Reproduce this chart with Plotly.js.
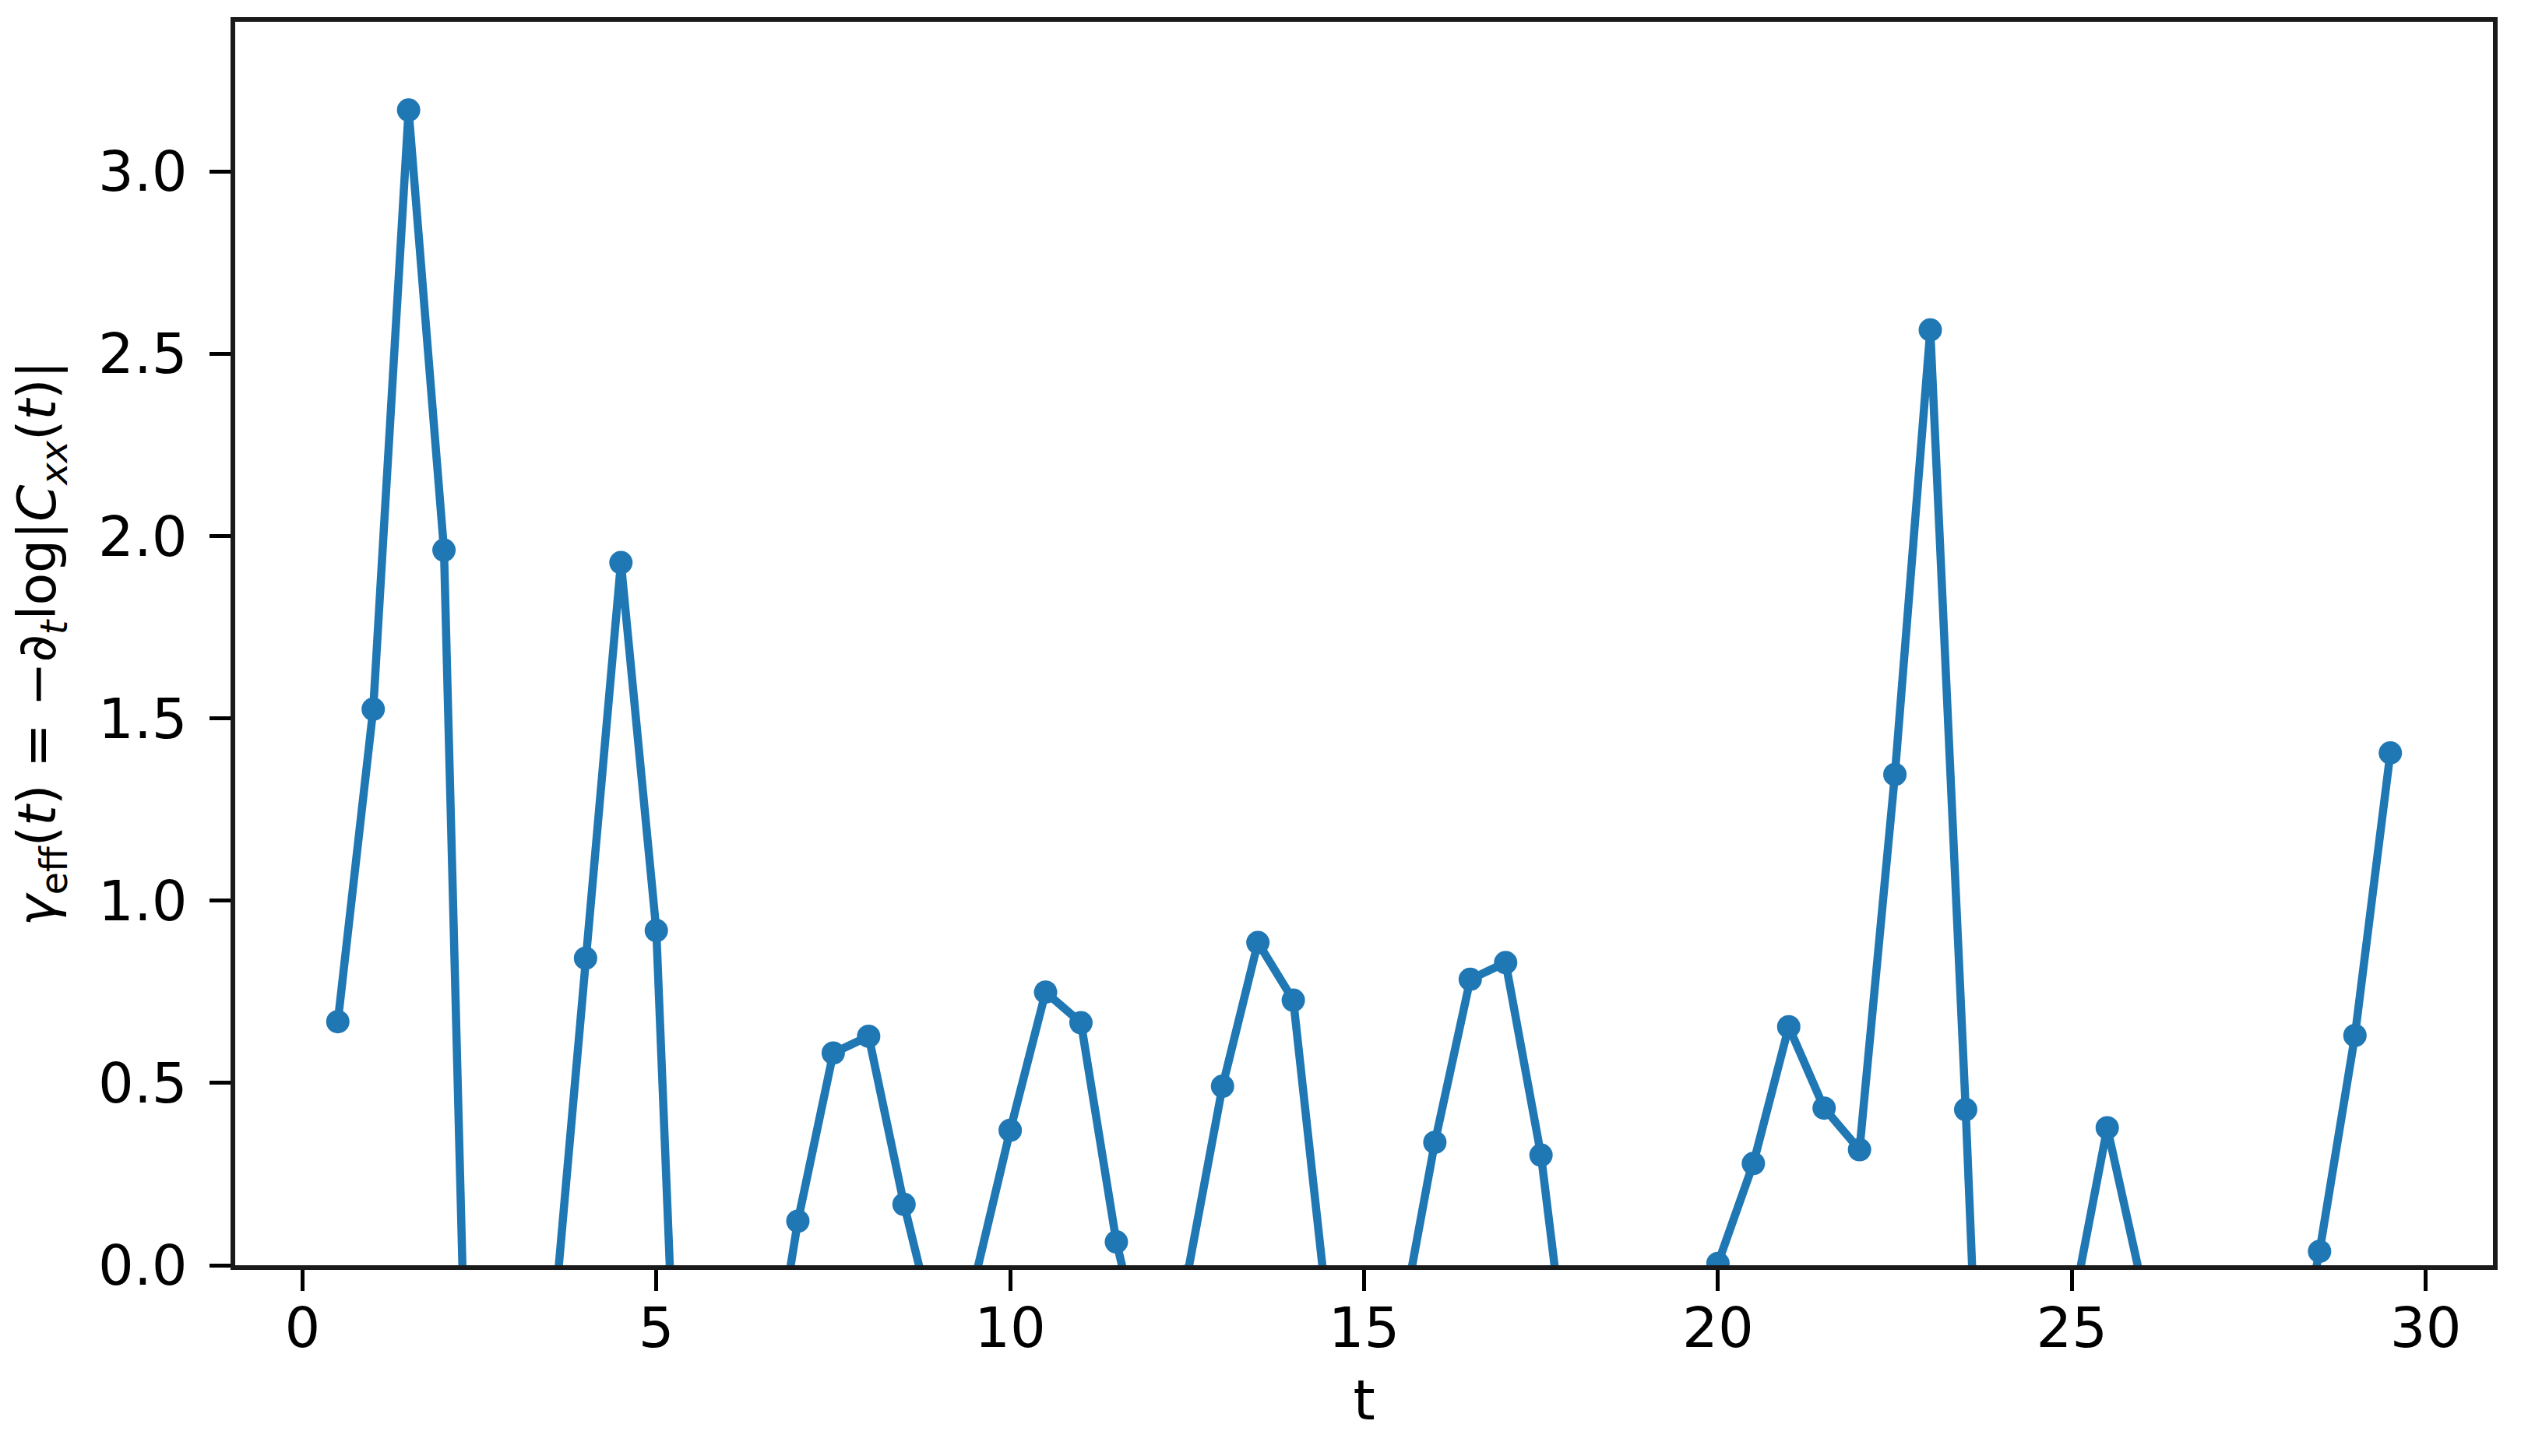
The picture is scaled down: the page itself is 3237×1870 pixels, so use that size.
<!DOCTYPE html>
<html>
<head>
<meta charset="utf-8">
<script src="https://cdn.plot.ly/plotly-3.0.1.min.js"></script>
<style>
  html, body { margin: 0; padding: 0; background: #fff; }
  #chart { width: 3237px; height: 1870px; }
</style>
</head>
<body>
<div id="chart"></div>
<script>
// Time slices t
const tValues = [0.5, 1.0, 1.5, 2.0, 2.5, 3.0, 3.5, 4.0, 4.5, 5.0,
                 5.5, 6.0, 6.5, 7.0, 7.5, 8.0, 8.5, 9.0, 9.5, 10.0,
                 10.5, 11.0, 11.5, 12.0, 12.5, 13.0, 13.5, 14.0, 14.5, 15.0,
                 15.5, 16.0, 16.5, 17.0, 17.5, 18.0, 18.5, 19.0, 19.5, 20.0,
                 20.5, 21.0, 21.5, 22.0, 22.5, 23.0, 23.5, 24.0, 24.5, 25.0,
                 25.5, 26.0, 26.5, 27.0, 27.5, 28.0, 28.5, 29.0, 29.5];
// Effective gamma (values below 0 are outside the visible range)
const gammaEff = [0.668, 1.525, 3.168, 1.961, -1.81, -2.5, -0.27, 0.842, 1.927, 0.918,
                  -1.50, -1.0, -0.48, 0.121, 0.582, 0.628, 0.167, -0.23, -0.04, 0.370,
                  0.749, 0.665, 0.064, -0.34, -0.03, 0.491, 0.885, 0.727, -0.16, -0.6,
                  -0.19, 0.337, 0.784, 0.830, 0.302, -0.49, -0.8, -0.6, -0.3, 0.005,
                  0.279, 0.654, 0.431, 0.317, 1.346, 2.565, 0.427, -1.94, -1.2, -0.13,
                  0.377, -0.06, -0.5, -0.7, -0.6, -0.44, 0.038, 0.630, 1.405];
const xTicks = [0, 5, 10, 15, 20, 25, 30];
const yTicks = [0.0, 0.5, 1.0, 1.5, 2.0, 2.5, 3.0];

const trace = {
  x: tValues,
  y: gammaEff,
  type: 'scatter',
  mode: 'lines+markers',
  line: { color: '#1f77b4', width: 10.5 },
  marker: { color: '#1f77b4', size: 30 },
  cliponaxis: true,
  showlegend: false
};

const tickFont = { family: 'DejaVu Sans', size: 72, color: '#000' };

const layout = {
  width: 3237,
  height: 1870,
  margin: { l: 302, r: 36, t: 28, b: 245 },
  paper_bgcolor: '#fff',
  plot_bgcolor: '#fff',
  font: { family: 'DejaVu Sans', color: '#000' },
  xaxis: {
    range: [-0.95, 30.95],
    tickmode: 'array',
    tickvals: xTicks,
    ticktext: xTicks.map(v => String(v)),
    ticks: 'outside',
    ticklen: 27,
    tickwidth: 5,
    tickcolor: '#000',
    tickfont: tickFont,
    ticklabelstandoff: -14,
    showgrid: false,
    zeroline: false,
    showline: true,
    linecolor: '#1a1a1a',
    linewidth: 6,
    mirror: true,
    title: { text: 't', font: { family: 'DejaVu Sans', size: 72, color: '#000' }, standoff: 28 },
    automargin: false
  },
  yaxis: {
    range: [0, 3.41],
    tickmode: 'array',
    tickvals: yTicks,
    ticktext: yTicks.map(v => v.toFixed(1)),
    ticks: 'outside',
    ticklen: 27,
    tickwidth: 5,
    tickcolor: '#000',
    tickfont: tickFont,
    ticklabelstandoff: 14,
    showgrid: false,
    zeroline: false,
    showline: true,
    linecolor: '#1a1a1a',
    linewidth: 6,
    mirror: true,
    title: {
      text: '<i>γ</i><sub>eff</sub>(<i>t</i>) = −∂<sub><i>t</i></sub>log|<i>C</i><sub><i>xx</i></sub>(<i>t</i>)|',
      font: { family: 'DejaVu Sans', size: 68, color: '#000' },
      standoff: 34
    },
    automargin: false
  }
};

Plotly.newPlot('chart', [trace], layout, { staticPlot: true, displayModeBar: false });
</script>
</body>
</html>
